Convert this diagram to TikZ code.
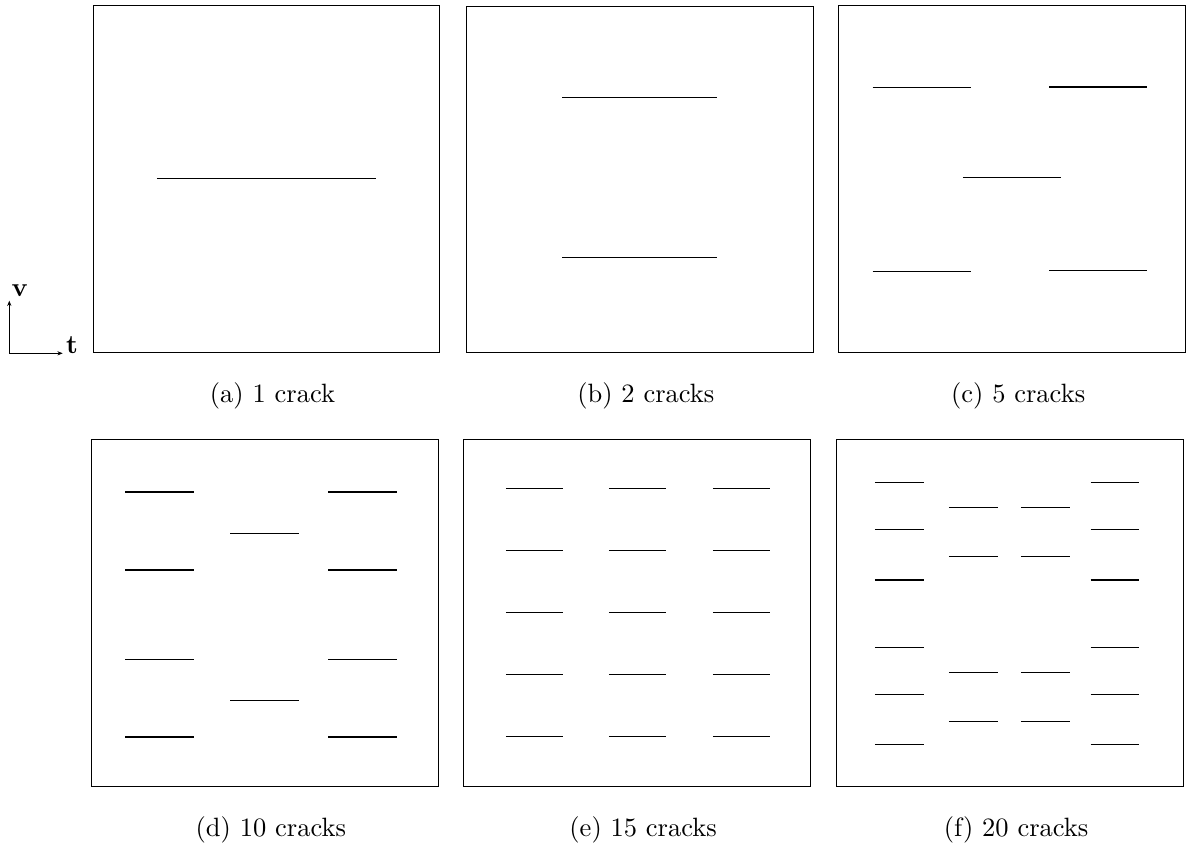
\documentclass[tikz,border=0pt]{standalone}
\usepackage{amsmath,amssymb}
\usepackage{xcolor}
\usepackage{tikz}
\usetikzlibrary{arrows.meta,positioning,calc}

% one crack: centre x, y, length (pixel units of the picture)
\newcommand{\crack}[3]{\draw[crackline] ({#1-#3/2},#2) -- ++(#3,0);}

\begin{document}
\begin{tikzpicture}[
  x=0.3774pt,y=-0.3774pt,
  every node/.style={font=\normalsize,align=center},
  panel/.style={rectangle,draw=black,line width=0.4pt,inner sep=0pt,minimum width=130.8pt,minimum height=130.8pt,anchor=north west},
  crackline/.style={draw=black,line width=0.4pt},
  caption/.style={inner sep=0pt},
  axis/.style={-{Stealth[length=2pt,width=1.6pt]},line width=0.4pt}
]
\useasboundingbox (0,0) rectangle (1189,848);

% panels
\node[panel] (pa) at (92.7,5.3) {};
\node[panel] (pb) at (466,5.5) {};
\node[panel] (pc) at (838.3,5.3) {};
\node[panel] (pd) at (91,439.3) {};
\node[panel] (pe) at (463.3,439.3) {};
\node[panel] (pf) at (836.3,439.3) {};

% captions
\node[caption] (capa) at ($(pa.south)+(6,43.2)$) {(a)\ 1 crack};
\node[caption] (capb) at ($(pb.south)+(6,43.2)$) {(b)\ 2 cracks};
\node[caption] (capc) at ($(pc.south)+(6,43.2)$) {(c)\ 5 cracks};
\node[caption] (capd) at ($(pd.south)+(6,43.2)$) {(d)\ 10 cracks};
\node[caption] (cape) at ($(pe.south)+(6,43.2)$) {(e)\ 15 cracks};
\node[caption] (capf) at ($(pf.south)+(6,43.2)$) {(f)\ 20 cracks};

% axes
\coordinate (orig) at (9.3,353.3);
\coordinate (vtip) at (9.3,300.7);
\coordinate (ttip) at (62.7,353.3);
\draw[axis] (orig) -- (vtip);
\draw[axis] (orig) -- (ttip);
\node (vlab) at (20,291) {$\mathbf{v}$};
\node (tlab) at (72,345.5) {$\mathbf{t}$};

% (a)
\begin{scope}[shift={(pa.north west)}]
  \crack{173.6}{173.4}{218.7}
\end{scope}

% (b)
\begin{scope}[shift={(pb.north west)}]
  \crack{173.5}{92}{155}
  \crack{173.5}{251.6}{155}
\end{scope}

% (c)
\begin{scope}[shift={(pc.north west)}]
  \crack{83.4}{82.4}{98}
  \crack{260}{81.7}{98}
  \crack{173.5}{172.4}{98}
  \crack{83.4}{266.4}{98}
  \crack{260}{265.4}{98}
\end{scope}

% (d)
\begin{scope}[shift={(pd.north west)}]
  \foreach \cy in {52.7,130.7,220,297.7}{
    \crack{68.7}{\cy}{68.7}
    \crack{271.4}{\cy}{68.7}
  }
  \crack{173.4}{94.4}{68.7}
  \crack{173.4}{261.4}{68.7}
\end{scope}

% (e)
\begin{scope}[shift={(pe.north west)}]
  \foreach \cx in {71,174,278}{
    \foreach \cy in {49.4,111,173,235,297}{
      \crack{\cx}{\cy}{56.7}
    }
  }
\end{scope}

% (f)
\begin{scope}[shift={(pf.north west)}]
  \foreach \cy in {43.4,90,140.7,208.4,255,305.4}{
    \crack{63}{\cy}{48.7}
    \crack{278.7}{\cy}{48.7}
  }
  \foreach \cy in {68,117.4,233,282.4}{
    \crack{137}{\cy}{48.7}
    \crack{209}{\cy}{48.7}
  }
\end{scope}
\end{tikzpicture}
\end{document}
